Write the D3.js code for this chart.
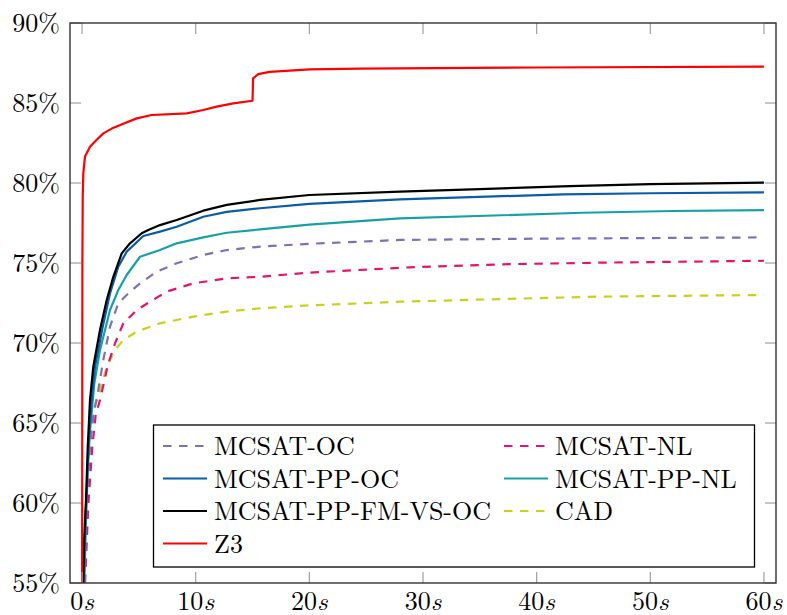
<!DOCTYPE html>
<html>
<head>
<meta charset="utf-8">
<script src="https://cdnjs.cloudflare.com/ajax/libs/d3/7.8.5/d3.min.js"></script>
<style>
  body { margin: 0; background: #fff; }
</style>
</head>
<body>
<svg id="chart"></svg>
<script>
var width = 787, height = 615;
var margin = {left: 70, right: 11, top: 23, bottom: 32};
var font = "'Latin Modern Roman'";

// tick labels
var xTicks = [0, 10, 20, 30, 40, 50, 60];
var yTicks = [55, 60, 65, 70, 75, 80, 85, 90];

// series: [seconds, percent solved]
var mcsatOC = [[0.2,55],[0.4,60],[0.7,63.5],[1.0,65.5],[1.43,67.06],[1.87,68.94],[2.46,71.02],[3.19,72.48],[4.07,73.1],[5.1,73.73],[6.57,74.46],[8.33,74.98],[10.67,75.5],[12.73,75.81],[15.66,76.02],[20,76.2],[27.97,76.44],[40,76.52],[50,76.56],[60,76.6]];
var mcsatNL = [[0.26,55],[0.56,60],[0.9,63.5],[1.2,65.5],[1.58,66.44],[2.31,68.73],[2.9,69.98],[3.63,71.23],[4.81,72.06],[5.98,72.58],[7.45,73.21],[9.79,73.73],[12.73,74.04],[15.66,74.14],[20,74.4],[28.85,74.73],[37,74.92],[45.6,75.02],[60,75.14]];
var mcsatPPOC = [[0.15,55],[0.3,59],[0.45,61.5],[0.6,64],[0.85,66.44],[1.14,68.52],[1.82,71.02],[2.46,73.1],[3.19,74.77],[3.93,75.71],[5.39,76.69],[6.86,76.96],[8.33,77.27],[10.67,77.89],[12.73,78.2],[15.66,78.42],[20,78.7],[27.97,78.98],[42.3,79.29],[50,79.36],[60,79.42]];
var mcsatPPNL = [[0.2,55],[0.35,59],[0.5,62],[0.7,64.5],[1.08,67.48],[1.58,69.56],[2.46,72.06],[3.19,73.31],[3.93,74.25],[5.1,75.39],[6.86,75.81],[8.33,76.23],[10.67,76.6],[12.73,76.89],[15.66,77.1],[20,77.4],[27.97,77.79],[44,78.14],[52,78.25],[60,78.31]];
var mcsatPPFM = [[0.1,55],[0.2,58],[0.35,60.2],[0.5,63.5],[0.7,66.44],[0.99,68.52],[1.58,70.81],[2.17,72.69],[2.75,74.14],[3.49,75.6],[4.22,76.23],[5.25,76.86],[5.83,77.06],[6.86,77.37],[8.33,77.69],[10.67,78.27],[12.73,78.63],[15.66,78.94],[20,79.25],[27.97,79.46],[35,79.62],[42.9,79.81],[50,79.93],[60,80.02]];
var cad = [[0.22,55],[0.35,60],[0.7,64],[1.0,65.8],[1.43,66.65],[2.17,68.52],[2.9,69.56],[3.63,70.19],[4.81,70.71],[6.86,71.23],[9.79,71.65],[12.73,71.96],[15.66,72.17],[20,72.35],[27.97,72.58],[37,72.75],[45.6,72.9],[60,73.0]];
var z3 = [[0.0,50],[0.03,75],[0.06,79.2],[0.11,80.6],[0.26,81.65],[0.7,82.27],[1.29,82.7],[1.87,83.1],[2.61,83.4],[3.63,83.7],[4.81,84.04],[6.13,84.25],[9.21,84.35],[10.67,84.56],[11.85,84.77],[13.31,84.98],[15.0,85.14],[15.05,86.54],[15.5,86.8],[16.5,86.95],[20.05,87.1],[24.45,87.15],[40,87.22],[60,87.27]];

var series = [
  {name: "MCSAT-OC", data: mcsatOC, color: "#7a72b5", dash: "8.5,7.5"},
  {name: "MCSAT-NL", data: mcsatNL, color: "#e6126f", dash: "8.5,7.5"},
  {name: "MCSAT-PP-OC", data: mcsatPPOC, color: "#0b5ca8", dash: null},
  {name: "MCSAT-PP-NL", data: mcsatPPNL, color: "#17a1a6", dash: null},
  {name: "MCSAT-PP-FM-VS-OC", data: mcsatPPFM, color: "#000000", dash: null},
  {name: "CAD", data: cad, color: "#c8d21a", dash: "8.5,7.5"},
  {name: "Z3", data: z3, color: "#ff0000", dash: null}
];

var svg = d3.select("#chart")
  .attr("width", width)
  .attr("height", height);

var x = d3.scaleLinear().domain([-1.06, 61.06]).range([margin.left, width - margin.right]);
var y = d3.scaleLinear().domain([55, 90]).range([height - margin.bottom, margin.top]);

svg.append("clipPath").attr("id", "clip")
  .append("rect")
  .attr("x", margin.left).attr("y", margin.top)
  .attr("width", width - margin.left - margin.right)
  .attr("height", height - margin.top - margin.bottom);

var line = d3.line()
  .x(function(d){ return x(d[0]); })
  .y(function(d){ return y(d[1]); });

// draw order: keep red and black on top
var drawOrder = [5, 1, 0, 3, 2, 4, 6];
svg.append("g").attr("clip-path", "url(#clip)")
  .selectAll("path")
  .data(drawOrder.map(function(i){ return series[i]; }))
  .enter()
  .append("path")
  .attr("d", function(d){ return line(d.data); })
  .attr("fill", "none")
  .attr("stroke", function(d){ return d.color; })
  .attr("stroke-width", 2.2)
  .attr("stroke-dasharray", function(d){ return d.dash; })
  .attr("stroke-linejoin", "round");

// ticks, inside, mirrored on all sides
var tickLen = 11;
var ticks = svg.append("g").attr("stroke", "#a0a0a0").attr("stroke-width", 1.2);
xTicks.forEach(function(t){
  ticks.append("line").attr("x1", x(t)).attr("x2", x(t))
    .attr("y1", y.range()[0]).attr("y2", y.range()[0] - tickLen);
  ticks.append("line").attr("x1", x(t)).attr("x2", x(t))
    .attr("y1", y.range()[1]).attr("y2", y.range()[1] + tickLen);
});
yTicks.forEach(function(t){
  ticks.append("line").attr("x1", x.range()[0]).attr("x2", x.range()[0] + tickLen)
    .attr("y1", y(t)).attr("y2", y(t));
  ticks.append("line").attr("x1", x.range()[1]).attr("x2", x.range()[1] - tickLen)
    .attr("y1", y(t)).attr("y2", y(t));
});

// frame
svg.append("rect")
  .attr("x", margin.left).attr("y", margin.top)
  .attr("width", width - margin.left - margin.right)
  .attr("height", height - margin.top - margin.bottom)
  .attr("fill", "none")
  .attr("stroke", "#333")
  .attr("stroke-width", 1.4);

// tick labels
svg.append("g").selectAll("text")
  .data(yTicks).enter()
  .append("text")
  .attr("x", 60)
  .attr("y", function(d){ return y(d); })
  .attr("dy", "0.34em")
  .attr("text-anchor", "end")
  .style("font-family", font)
  .style("font-size", "26px")
  .text(function(d){ return d + "%"; });

var xl = svg.append("g").selectAll("text")
  .data(xTicks).enter()
  .append("text")
  .attr("x", function(d){ return x(d); })
  .attr("y", 610)
  .attr("text-anchor", "middle")
  .style("font-family", font)
  .style("font-size", "26px");
xl.append("tspan").text(function(d){ return d; });
xl.append("tspan").style("font-style", "italic").text("s");

// legend
var legend = svg.append("g");
legend.append("rect")
  .attr("x", 153.5).attr("y", 425)
  .attr("width", 601).attr("height", 142)
  .attr("fill", "#fff")
  .attr("stroke", "#000")
  .attr("stroke-width", 1.3);

var colX = [163, 504], rowY = [446, 478.5, 511, 543.5];
var items = legend.selectAll("g.item")
  .data(series)
  .enter().append("g")
  .attr("transform", function(d, i){
    return "translate(" + colX[i % 2] + "," + rowY[Math.floor(i / 2)] + ")";
  });
items.append("line")
  .attr("x1", 0).attr("x2", 44)
  .attr("stroke", function(d){ return d.color; })
  .attr("stroke-width", 2.2)
  .attr("stroke-dasharray", function(d){ return d.dash; });
items.append("text")
  .attr("x", 51)
  .attr("dy", "0.35em")
  .style("font-family", font)
  .style("font-size", "26px")
  .text(function(d){ return d.name; });
</script>
</body>
</html>
